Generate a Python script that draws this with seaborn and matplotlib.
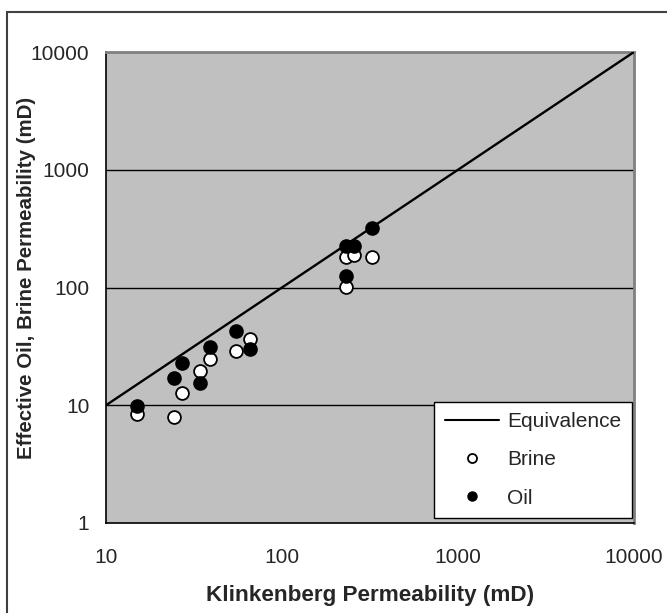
import numpy as np
import pandas as pd
import seaborn as sns
import matplotlib
matplotlib.use("Agg")
import matplotlib.pyplot as plt
from matplotlib.lines import Line2D
from matplotlib.patches import Rectangle
from matplotlib.ticker import FixedLocator, NullLocator, FixedFormatter

# ---- data ----
klinkenberg = [15, 24.3, 27, 34, 39, 55, 65.5, 230, 230, 256, 324]
brine = [8.4, 7.9, 12.6, 19.4, 24.5, 28.7, 36.7, 183, 101, 189, 183]
oil = [9.9, 17.2, 22.7, 15.4, 31.0, 42.6, 29.8, 224, 125, 224, 321]
equiv_x = [10, 10000]
equiv_y = [10, 10000]
x_ticks = [10, 100, 1000, 10000]
y_ticks = [1, 10, 100, 1000, 10000]
x_label = "Klinkenberg Permeability (mD)"
y_label = "Effective Oil, Brine Permeability (mD)"

sns.set_style("white")
plt.rcParams['font.family'] = ['Liberation Sans', 'DejaVu Sans']

W, H = 667, 613
fig = plt.figure(figsize=(W / 100, H / 100), dpi=100)
L, R, T, B = 106, 634, 52, 523
ax = fig.add_axes([L / W, 1 - B / H, (R - L) / W, (B - T) / H])
ax.set_facecolor('#C0C0C0')

df_eq = pd.DataFrame({"x": equiv_x, "y": equiv_y})
df_b = pd.DataFrame({"x": klinkenberg, "y": brine})
df_o = pd.DataFrame({"x": klinkenberg, "y": oil})

ax.set_xscale('log')
ax.set_yscale('log')
ax.set_xlim(10, 10000)
ax.set_ylim(1, 10000)

for yv in y_ticks[1:-1]:
    ax.axhline(yv, color='black', lw=1.0, zorder=1)

sns.lineplot(data=df_eq, x="x", y="y", ax=ax, color='black', lw=1.7, zorder=3, legend=False)
sns.scatterplot(data=df_b, x="x", y="y", ax=ax, s=85, marker='o', facecolor='white',
                edgecolor='black', linewidth=1.3, zorder=4, legend=False)
sns.scatterplot(data=df_o, x="x", y="y", ax=ax, s=85, marker='o', color='black',
                edgecolor='black', linewidth=1.3, zorder=5, legend=False)

ax.xaxis.set_major_locator(FixedLocator(x_ticks))
ax.xaxis.set_major_formatter(FixedFormatter([str(v) for v in x_ticks]))
ax.yaxis.set_major_locator(FixedLocator(y_ticks))
ax.yaxis.set_major_formatter(FixedFormatter([str(v) for v in y_ticks]))
ax.xaxis.set_minor_locator(NullLocator())
ax.yaxis.set_minor_locator(NullLocator())
ax.tick_params(axis='both', which='major', direction='out', length=6, width=1,
               color='black', labelsize=15, pad=6)
ax.tick_params(axis='x', pad=12)

ax.set_xlabel(x_label, fontsize=16.2, fontweight='bold')
ax.set_ylabel(y_label, fontsize=14.8, fontweight='bold')
ax.xaxis.set_label_coords(0.5, -0.131)
ax.yaxis.label.set_va('center')
ax.yaxis.set_label_coords(-0.151, 0.521)

for s in ['left', 'bottom']:
    ax.spines[s].set_color('black')
    ax.spines[s].set_linewidth(1.2)
for s in ['top', 'right']:
    ax.spines[s].set_color('#808080')
    ax.spines[s].set_linewidth(2)

handles = [
    Line2D([], [], color='black', lw=1.5),
    Line2D([], [], ls='none', marker='o', markersize=6.5, markerfacecolor='white',
           markeredgecolor='black', markeredgewidth=1.3),
    Line2D([], [], ls='none', marker='o', markersize=6.5, markerfacecolor='black',
           markeredgecolor='black'),
]
leg = ax.legend(handles, ["Equivalence", "Brine", "Oil"], loc='lower right',
                bbox_to_anchor=(0.996, 0.0106), fontsize=15, frameon=True,
                fancybox=False, shadow=False, framealpha=1, edgecolor='black',
                handlelength=2.6, handletextpad=0.4, labelspacing=0.92,
                borderpad=0.5, borderaxespad=0)
leg.get_frame().set_linewidth(1.0)

fig.patches.append(Rectangle((7 / W, -0.1), 1.2, (H - 12) / H + 0.1,
                             transform=fig.transFigure, fill=False,
                             edgecolor='#404040', lw=1.5))

fig.savefig("out.png", dpi=100, facecolor='white')
